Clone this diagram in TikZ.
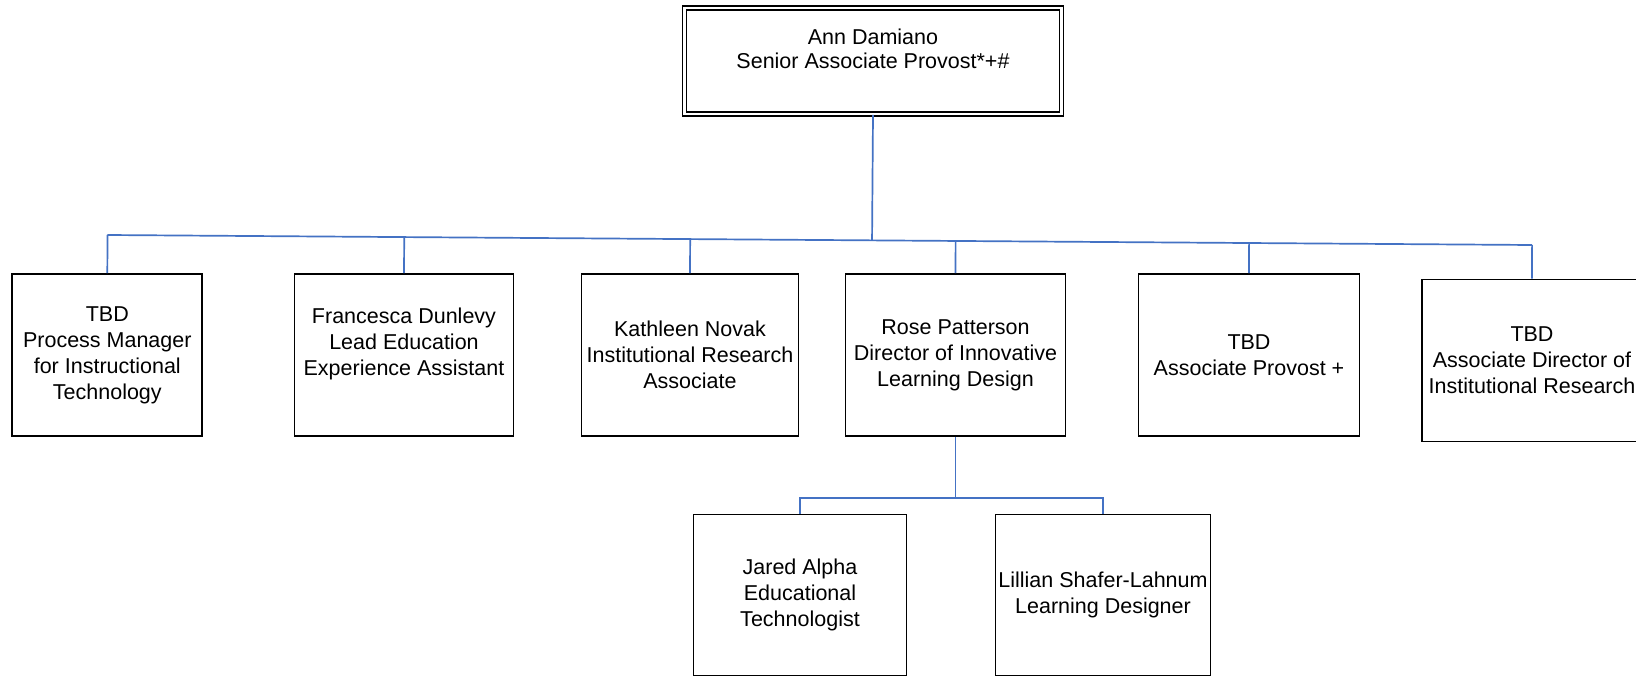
\documentclass[tikz,border=0pt]{standalone}
\usepackage{fontspec}
\setmainfont{Liberation Sans}
\usetikzlibrary{calc}
\definecolor{conn}{HTML}{4472C4}
\tikzset{
  box/.style={draw=black, line width=1.9pt, align=center, inner sep=0pt,
    font=\fontsize{21.5}{26}\selectfont},
  topbox/.style={draw=black, line width=1.6pt, double, double distance=2.4pt,
    align=center, inner sep=0pt, font=\fontsize{21.5}{24}\selectfont,
    minimum width=377pt, minimum height=106pt},
  link/.style={draw=conn, line width=1.7pt},
}
\begin{document}
\begin{tikzpicture}[x=1pt,y=-1pt]
\useasboundingbox[fill=white] (0,0) rectangle (1636,677);

\node[topbox] (top) at (873,61) {Ann Damiano\\Senior Associate Provost*+\#\\\mbox{}};

\node[box, minimum width=190pt, minimum height=162pt] (b1) at (107.3,355)
  {TBD\\Process Manager\\for Instructional\\Technology};
\node[box, minimum width=219pt, minimum height=162pt] (b2) at (404,355)
  {Francesca Dunlevy\\Lead Education\\Experience Assistant\\\mbox{}};
\node[box, minimum width=217pt, minimum height=162pt] (b3) at (690,355)
  {Kathleen Novak\\Institutional Research\\Associate};
\node[box, minimum width=220pt, minimum height=162pt] (b4) at (955.5,355)
  {Rose Patterson\\Director of Innovative\\Learning Design};
\node[box, minimum width=221pt, minimum height=162pt] (b5) at (1249,355)
  {TBD\\Associate Provost +};
\node[box, minimum width=220pt, minimum height=162pt] (b6) at (1532,360.5)
  {TBD\\Associate Director of\\Institutional Research};

\node[box, minimum width=213pt, minimum height=161pt] (j) at (800,595)
  {Jared Alpha\\Educational\\Technologist};
\node[box, minimum width=215pt, minimum height=161pt] (l) at (1103,595)
  {Lillian Shafer-Lahnum\\Learning Designer};

\coordinate (busL) at (107.3,235);
\coordinate (busR) at (1532,245);
\coordinate (brM) at (955.5,498);

\draw[link] (top.south) -- ($(busL)!(top.south)!(busR)$);
\draw[link] (busL) -- (busR);
\foreach \b in {b1,b2,b3,b4,b5,b6}{
  \draw[link] ($(busL)!(\b.north)!(busR)$) -- (\b.north);
}
\draw[link] (b4.south) -- (brM);
\draw[link] (j.north) |- (brM) -| (l.north);
\end{tikzpicture}
\end{document}
